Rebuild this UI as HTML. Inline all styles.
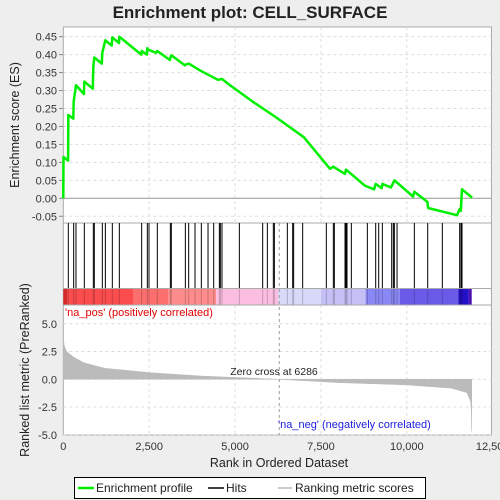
<!DOCTYPE html>
<html><head><meta charset="utf-8">
<style>
body{margin:0;background:#eeeeee;font-family:"Liberation Sans",sans-serif}
svg{display:block}
text{font-family:"Liberation Sans",sans-serif}
</style></head>
<body>
<svg id="c" width="500" height="500" xmlns="http://www.w3.org/2000/svg">
<rect x="0" y="0" width="500" height="500" fill="#eeeeee"/>
<text x="250" y="18" text-anchor="middle" font-size="17" font-weight="bold" fill="#222">Enrichment plot: CELL_SURFACE</text>
</svg>
<script>
const esRanks=[0,5,140,146,290,302,369,600,612,860,874,903,1120,1136,1224,1410,1427,1620,1631,2270,2281,2435,2446,2475,2700,2737,3100,3116,3145,3540,3553,3650,4000,4500,4620,4853,5500,6200,7000,7764,7861,8200,8230,8780,9047,9094,9270,9288,9540,9637,10180,10219,10600,10620,11460,11539,11570,11607,11900];
const esValues=[0,0.115,0.105,0.232,0.222,0.27,0.315,0.29,0.325,0.305,0.365,0.392,0.375,0.405,0.44,0.425,0.448,0.432,0.45,0.40,0.41,0.40,0.418,0.414,0.405,0.41,0.385,0.39,0.398,0.37,0.372,0.375,0.355,0.33,0.332,0.315,0.27,0.225,0.17,0.082,0.088,0.068,0.08,0.035,0.025,0.04,0.028,0.04,0.03,0.05,0.005,0.018,-0.01,-0.027,-0.047,-0.03,-0.035,0.025,0.002];
const hitRanks=[146,302,369,612,874,903,1136,1224,1427,1631,2281,2446,2495,2737,3116,3145,3553,3650,3834,4018,4213,4378,4543,4572,4620,5125,5804,5940,6114,6144,6522,6677,6706,6968,7657,7861,7890,8201,8230,8259,8385,8851,9094,9181,9288,9560,9608,9637,9715,10219,10608,11034,11539,11578,11607];
const metricRanks=[0,30,100,300,600,1200,2500,4000,6286,8000,10000,11300,11750,11860,11880,11889];
const metricValues=[3.8,3.0,2.5,2.0,1.5,1.0,0.6,0.3,0,-0.3,-0.5,-0.8,-1.2,-2.0,-3.2,-4.7];
const xTicks=[0,2500,5000,7500,10000,12500];
const xTickLabels=["0","2,500","5,000","7,500","10,000","12,500"];
const esTicks=[0.45,0.40,0.35,0.30,0.25,0.20,0.15,0.10,0.05,0.00,-0.05];
const metricTicks=[5,2.5,0,-2.5,-5];
const metricTickLabels=["5.0","2.5","0.0","-2.5","-5.0"];

const NS="http://www.w3.org/2000/svg";
const svg=document.getElementById('c');
function el(t,a,p){const e=document.createElementNS(NS,t);for(const k in a)e.setAttribute(k,a[k]);(p||svg).appendChild(e);return e;}
const L=63.3,R=491.5;
const xs=r=>L+r*(492.7-63.3)/12500;
const ys=v=>198.3-v*359.2;
const ym=v=>379.3-v*11.1;

let p=el('rect',{x:L,y:27,width:R-L,height:196,fill:'#fff',stroke:'#aaa'});

p=el('rect',{x:L,y:223,width:R-L,height:212,fill:'#fff',stroke:'#aaa'});

xTicks.forEach(t=>{if(t>0&&t<12500){
 let g=el('line',{x1:xs(t),x2:xs(t),y1:27,y2:223,stroke:'#ddd','stroke-dasharray':'3,3'});
 
 g=el('line',{x1:xs(t),x2:xs(t),y1:305,y2:435,stroke:'#ddd','stroke-dasharray':'3,3'});
 }});
esTicks.forEach(t=>{
 let g=el('line',{x1:L,x2:R,y1:ys(t),y2:ys(t),stroke:'#ddd','stroke-dasharray':'3,3'});
 
 let tx=el('text',{x:57,y:ys(t)+4,'text-anchor':'end','font-size':'11',fill:'#333'});
 tx.textContent=t.toFixed(2);
 
 let tk=el('line',{x1:59,x2:L,y1:ys(t),y2:ys(t),stroke:'#888'});
 });
let z=el('line',{x1:L,x2:R,y1:ys(0),y2:ys(0),stroke:'#999'});

metricTicks.forEach((t,i)=>{
 let g=el('line',{x1:L,x2:R,y1:ym(t),y2:ym(t),stroke:'#ddd','stroke-dasharray':'3,3'});
 
 let tx=el('text',{x:57,y:ym(t)+4,'text-anchor':'end','font-size':'11',fill:'#333'});
 tx.textContent=metricTickLabels[i];
 });
xTicks.forEach((t,i)=>{
 let tx=el('text',{x:xs(t),y:450,'text-anchor':'middle','font-size':'11',fill:'#333'});
 tx.textContent=xTickLabels[i];
 });

let d=esRanks.map((r,i)=>(i?'L':'M')+xs(r).toFixed(1)+','+ys(esValues[i]).toFixed(1)).join('');
let es=el('path',{d:d,fill:'none',stroke:'#00ee00','stroke-width':'2.5','stroke-linejoin':'round'});


hitRanks.forEach(r=>{
 let h=el('line',{x1:xs(r),x2:xs(r),y1:223,y2:288,stroke:'#000','stroke-width':'1'});
 });
let sep=el('line',{x1:L,x2:R,y1:288.5,y2:288.5,stroke:'#aaa'});

const bands=[[0,120,'#d42a2a'],[120,2050,'#fb4d4d'],[2050,3050,'#fd6e6e'],[3050,4450,'#fe8c8c'],[4450,6250,'#fbbde0'],[6250,7500,'#d8d8f8'],[7500,8800,'#c4c0f6'],[8800,9800,'#8a88f4'],[9800,11500,'#6a5ae8'],[11500,11800,'#2410c8'],[11800,11889,'#4a10b0']];
bands.forEach(b=>{
 let c=el('rect',{x:xs(b[0]),y:289,width:xs(b[1])-xs(b[0]),height:16,fill:b[2]});
 });
hitRanks.forEach(r=>{
 let h=el('line',{x1:xs(r),x2:xs(r),y1:289,y2:305,stroke:'rgba(0,0,0,0.2)'});
 });
let sep2=el('line',{x1:L,x2:R,y1:305,y2:305,stroke:'#aaa'});


let md='M'+xs(0)+','+ym(0);
metricRanks.forEach((r,i)=>{md+='L'+xs(r).toFixed(1)+','+ym(metricValues[i]).toFixed(1);});
md+='L'+xs(metricRanks[metricRanks.length-1])+','+ym(0)+'Z';
let ma=el('path',{d:md,fill:'#bbbbbb',stroke:'#bbbbbb','stroke-width':'0.5'});


let zc=el('line',{x1:xs(6286),x2:xs(6286),y1:223,y2:435,stroke:'#999','stroke-dasharray':'3,3'});

function txt(x,y,s,a,name,col,anchor,rot){
 const t=el('text',{x:x,y:y,'font-size':a,fill:col||'#222','text-anchor':anchor||'start'});
 if(rot)t.setAttribute('transform',rot);
 t.textContent=s;
 return t;}
txt(274,375,'Zero cross at 6286','10.5','zero-cross-label','#222','middle');
txt(65,316,"'na_pos' (positively correlated)",'11','na-pos-label','#e00000');
txt(278,428,"'na_neg' (negatively correlated)",'11','na-neg-label','#2020e0');
txt(279,467,'Rank in Ordered Dataset','12.5','x-axis-title','#222','middle');
txt(19,125,'Enrichment score (ES)','12.5','es-axis-title','#222','middle','rotate(-90 19 125)');
txt(29,370,'Ranked list metric (PreRanked)','12.5','metric-axis-title','#222','middle','rotate(-90 29 370)');

let lg=el('rect',{x:74.5,y:477.5,width:351,height:21,fill:'#fff',stroke:'#000'});

let l1=el('line',{x1:78,x2:94,y1:488,y2:488,stroke:'#00ee00','stroke-width':'2.5'});

txt(96,492,'Enrichment profile','12','legend-enrichment-profile');
let l2=el('line',{x1:208,x2:224,y1:488,y2:488,stroke:'#000','stroke-width':'1.5'});

txt(226,492,'Hits','12','legend-hits');
let l3=el('line',{x1:278,x2:292,y1:488,y2:488,stroke:'#bbb','stroke-width':'1.5'});

txt(295,492,'Ranking metric scores','12','legend-ranking-metric');
</script>
</body></html>
